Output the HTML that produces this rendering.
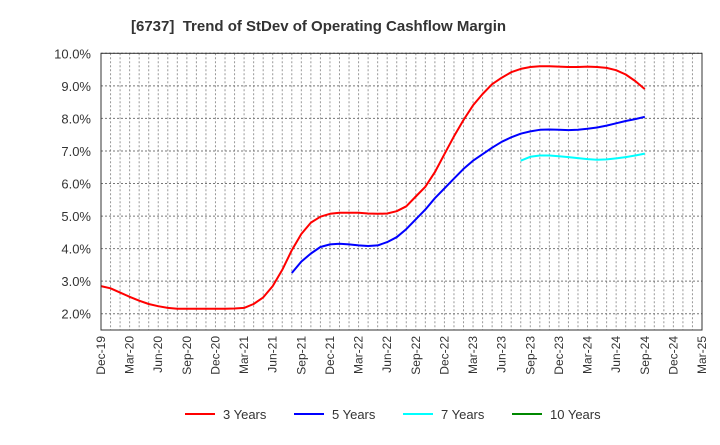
<!DOCTYPE html>
<html><head><meta charset="utf-8"><style>
body{margin:0;background:#fff;font-family:"Liberation Sans",sans-serif}
</style></head><body>
<svg width="720" height="440" font-family="Liberation Sans, sans-serif">
<text x="131" y="31" font-size="15" font-weight="bold" fill="#333" style="white-space:pre" xml:space="preserve">[6737]  Trend of StDev of Operating Cashflow Margin</text>
<g id="grid"></g>
<g id="series"></g>
<rect x="101" y="53.3" width="601" height="276.7" fill="none" stroke="#333" stroke-width="1"/>
<g id="yticks"></g>
<g id="xticks"></g>
<g id="legend"></g>
</svg>
<script>
const xLabels=["Dec-19","Mar-20","Jun-20","Sep-20","Dec-20","Mar-21","Jun-21","Sep-21","Dec-21","Mar-22","Jun-22","Sep-22","Dec-22","Mar-23","Jun-23","Sep-23","Dec-23","Mar-24","Jun-24","Sep-24","Dec-24","Mar-25"];
const yTicks=[2,3,4,5,6,7,8,9,10];
const red=[2.85,2.78,2.65,2.52,2.4,2.3,2.23,2.18,2.15,2.15,2.15,2.15,2.15,2.15,2.16,2.18,2.3,2.5,2.85,3.35,3.95,4.45,4.8,4.98,5.07,5.1,5.1,5.1,5.08,5.07,5.08,5.15,5.3,5.6,5.9,6.35,6.9,7.45,7.95,8.4,8.75,9.05,9.25,9.42,9.52,9.58,9.6,9.6,9.59,9.58,9.58,9.59,9.58,9.55,9.48,9.35,9.15,8.9];
const redStart=0;
const blue=[3.25,3.6,3.85,4.05,4.13,4.15,4.13,4.1,4.08,4.1,4.2,4.35,4.6,4.9,5.2,5.55,5.85,6.15,6.45,6.7,6.9,7.1,7.28,7.42,7.53,7.6,7.65,7.66,7.65,7.64,7.65,7.68,7.72,7.78,7.85,7.92,7.98,8.05];
const blueStart=20;
const cyan=[6.7,6.82,6.86,6.86,6.84,6.81,6.78,6.75,6.73,6.74,6.77,6.81,6.86,6.92];
const cyanStart=44;
const green=[];
const legendNames=["3 Years","5 Years","7 Years","10 Years"];
const colors=["#f00","#00f","#0ff","#080"];
const NS="http://www.w3.org/2000/svg";
const X0=101,X1=702,Y0=330,Y1=53.3,M=63,YMIN=1.5,YMAX=10;
const xs=m=>X0+(X1-X0)*m/M;
const ys=v=>Y0-(Y0-Y1)*(v-YMIN)/(YMAX-YMIN);
function mk(t,a,p){const e=document.createElementNS(NS,t);for(const k in a)e.setAttribute(k,a[k]);p.appendChild(e);return e;}
const grid=document.getElementById('grid');
for(let m=1;m<M;m++){const l=mk('line',{x1:xs(m),x2:xs(m),y1:Y1,y2:Y0,stroke:'#999','stroke-dasharray':'2,2','stroke-width':1},grid);

}
const yt=document.getElementById('yticks');
yTicks.forEach(v=>{const l=mk('line',{x1:X0,x2:X1,y1:ys(v),y2:ys(v),stroke:'#777','stroke-dasharray':'2,2','stroke-width':1},grid);


const t=mk('text',{x:91,y:ys(v)+5,'text-anchor':'end','font-size':13,fill:'#333'},yt);t.textContent=v.toFixed(1)+'%';

});
const xt=document.getElementById('xticks');
xLabels.forEach((s,i)=>{const x=xs(i*3);const t=mk('text',{x:0,y:0,transform:`translate(${x+4},336) rotate(-90)`,'text-anchor':'end','font-size':12,fill:'#333'},xt);t.textContent=s;

});
const sg=document.getElementById('series');
[[red,redStart,'series-3-years'],[blue,blueStart,'series-5-years'],[cyan,cyanStart,'series-7-years'],[green,0,'series-10-years']].forEach((s,i)=>{
if(!s[0].length)return;
const d=s[0].map((v,j)=>(j?'L':'M')+xs(s[1]+j).toFixed(1)+','+ys(v).toFixed(1)).join('');
const p=mk('path',{d:d,fill:'none',stroke:colors[i],'stroke-width':2,'stroke-linejoin':'round'},sg);

});
const lg=document.getElementById('legend');
const lx=[185,294,403,512];
legendNames.forEach((n,i)=>{const l=mk('line',{x1:lx[i],x2:lx[i]+30,y1:414,y2:414,stroke:colors[i],'stroke-width':2},lg);


const t=mk('text',{x:lx[i]+38,y:419,'font-size':13,fill:'#333'},lg);t.textContent=n;

});
</script>
</body></html>
